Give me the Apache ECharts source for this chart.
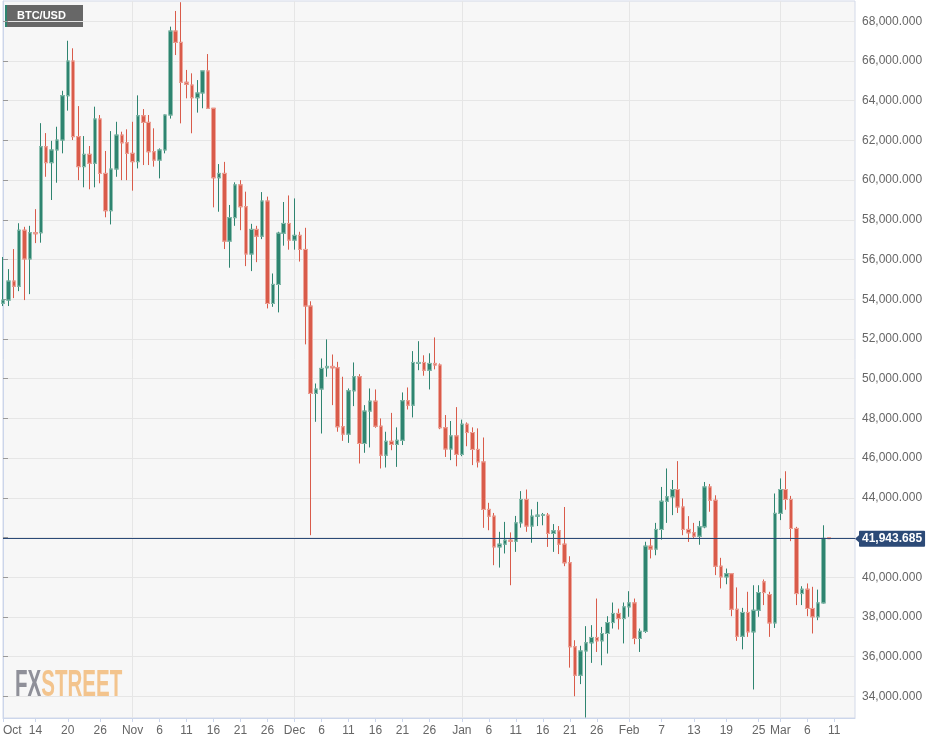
<!DOCTYPE html>
<html><head><meta charset="utf-8">
<script src="https://cdn.jsdelivr.net/npm/echarts@6/dist/echarts.min.js"></script>
<style>html,body{margin:0;padding:0;background:#fff}#c{width:939px;height:744px}</style>
</head><body><div id="c"></div>
<script>
// ---- data ----
const dates = [
'2021-10-08','2021-10-09','2021-10-10','2021-10-11','2021-10-12','2021-10-13','2021-10-14','2021-10-15','2021-10-16','2021-10-17',
'2021-10-18','2021-10-19','2021-10-20','2021-10-21','2021-10-22','2021-10-23','2021-10-24','2021-10-25','2021-10-26','2021-10-27',
'2021-10-28','2021-10-29','2021-10-30','2021-10-31','2021-11-01','2021-11-02','2021-11-03','2021-11-04','2021-11-05','2021-11-06',
'2021-11-07','2021-11-08','2021-11-09','2021-11-10','2021-11-11','2021-11-12','2021-11-13','2021-11-14','2021-11-15','2021-11-16',
'2021-11-17','2021-11-18','2021-11-19','2021-11-20','2021-11-21','2021-11-22','2021-11-23','2021-11-24','2021-11-25','2021-11-26',
'2021-11-27','2021-11-28','2021-11-29','2021-11-30','2021-12-01','2021-12-02','2021-12-03','2021-12-04','2021-12-05','2021-12-06',
'2021-12-07','2021-12-08','2021-12-09','2021-12-10','2021-12-11','2021-12-12','2021-12-13','2021-12-14','2021-12-15','2021-12-16',
'2021-12-17','2021-12-18','2021-12-19','2021-12-20','2021-12-21','2021-12-22','2021-12-23','2021-12-24','2021-12-25','2021-12-26',
'2021-12-27','2021-12-28','2021-12-29','2021-12-30','2021-12-31','2022-01-01','2022-01-02','2022-01-03','2022-01-04','2022-01-05',
'2022-01-06','2022-01-07','2022-01-08','2022-01-09','2022-01-10','2022-01-11','2022-01-12','2022-01-13','2022-01-14','2022-01-15',
'2022-01-16','2022-01-17','2022-01-18','2022-01-19','2022-01-20','2022-01-21','2022-01-22','2022-01-23','2022-01-24','2022-01-25',
'2022-01-26','2022-01-27','2022-01-28','2022-01-29','2022-01-30','2022-01-31','2022-02-01','2022-02-02','2022-02-03','2022-02-04',
'2022-02-05','2022-02-06','2022-02-07','2022-02-08','2022-02-09','2022-02-10','2022-02-11','2022-02-12','2022-02-13','2022-02-14',
'2022-02-15','2022-02-16','2022-02-17','2022-02-18','2022-02-19','2022-02-20','2022-02-21','2022-02-22','2022-02-23','2022-02-24',
'2022-02-25','2022-02-26','2022-02-27','2022-02-28','2022-03-01','2022-03-02','2022-03-03','2022-03-04','2022-03-05','2022-03-06',
'2022-03-07','2022-03-08','2022-03-09','2022-03-10'];
const opens = [
53800,53960,54920,54660,57480,56030,57350,57350,61680,60880,
61520,62020,64250,66000,62190,60680,61300,60850,63080,60340,
58460,60560,62270,61880,61350,60930,63240,62910,61430,61010,
61520,63280,67510,66940,64930,64790,64150,64390,65500,63620,
60120,60340,56930,58110,59760,58660,56280,57520,57180,58950,
53790,54750,57330,57820,56980,57220,56510,53660,49260,49480,
50550,50620,50550,47580,47210,49390,50100,46740,48370,48870,
47610,46150,46850,46690,46900,48890,48670,50780,50820,50430,
50770,50690,47530,46460,47120,46190,47710,47290,46440,45810,
43420,43080,41530,41670,41870,41820,42740,43920,42580,43080,
43130,43130,42210,42340,41670,40730,36500,35070,36290,36700,
36970,36800,37170,37720,38180,37920,38510,38710,36920,37280,
41570,41420,42410,43830,44050,44420,43540,42410,42240,42070,
42540,44550,43880,40560,40020,40180,38390,37030,38230,37250,
38340,39770,39130,37700,43220,44420,43920,42460,39180,39400,
38430,38010,38710,41990];
const highs = [
56130,55520,56530,57830,57650,57700,58540,62870,62370,61980,
62690,64500,67020,66640,63730,62220,61720,63700,63280,61470,
62470,62940,62440,62560,62940,64270,63580,63280,62610,61600,
63300,67730,68520,68960,65550,65380,65040,65500,66350,63620,
60810,60920,58750,59890,60000,59420,57800,57700,59400,59170,
55300,57400,58900,59230,59080,57400,57600,53900,49760,51020,
51980,51220,50850,50100,49510,50820,50230,48670,49510,49460,
48000,47330,48280,47550,49310,49560,51390,51890,51180,51280,
52080,50770,48170,47870,48570,47940,47800,47550,47500,47040,
43750,43240,42290,42790,42260,43090,44340,44420,43420,43800,
43240,43240,42680,42580,43540,41060,36830,36550,37540,37590,
38930,37500,38040,38730,38420,38730,39300,38930,37420,41790,
41930,42740,44550,45480,44900,45850,43970,43080,42740,42840,
44800,44700,44130,40980,40440,40200,39490,38460,39270,39600,
39600,39890,39270,44220,44980,45340,44100,42540,39550,39690,
39520,39380,42620,42000];
const lows = [
53660,53660,54060,54410,53960,54260,56830,56850,60170,59000,
59870,61350,63500,62020,60000,59640,59540,59640,59840,58130,
57770,60170,60000,60000,59470,60590,60760,60760,60680,60090,
61350,63100,66300,62860,64120,62360,63400,63620,63620,58630,
58410,56530,55590,57700,57480,55670,55420,55870,57030,53540,
53620,53340,56700,56500,56500,55900,51730,42120,47830,47240,
50100,48670,47330,46870,46770,48620,45730,46270,46540,47530,
45480,45530,46400,45560,46660,48450,48050,50430,50150,49460,
50470,47460,46060,45900,45590,46100,46600,45650,45530,42490,
42370,40610,40490,41200,39600,41280,42500,42290,41740,42580,
42620,41530,41280,41170,40560,35450,34010,34620,32940,35690,
36240,35570,36160,37420,37370,36670,38010,36630,36240,37200,
40950,41110,41900,42740,43130,43240,42120,41780,41960,41640,
42470,43300,40110,39440,39650,38040,36800,36370,37000,34350,
38010,38600,37000,37450,42880,43400,41820,38600,38600,38040,
37170,37840,38680,41930];
const closes = [
53960,54920,54660,57480,56030,57350,57300,61680,60880,61520,
62020,64250,66000,62190,60680,61300,60850,63080,60340,58460,
60560,62270,61880,61350,60930,63240,62910,61430,61010,61520,
63280,67510,66940,64930,64830,64150,64390,65500,63620,60120,
60340,56930,58110,59760,58660,56280,57520,57180,58950,53790,
54750,57330,57820,56980,57220,56510,53660,49260,49480,50520,
50620,50550,47580,47210,49390,50100,46740,48370,48870,47610,
46150,46850,46690,46900,48890,48670,50820,50820,50430,50770,
50690,47530,46460,47120,46190,47710,47290,46440,45810,43420,
43080,41530,41670,41870,41820,42740,43920,42580,43080,43130,
43150,42210,42340,41670,40730,36500,35070,36290,36700,36970,
36800,37170,37720,38180,37920,38510,38710,36920,37280,41570,
41420,42410,43830,44050,44420,43540,42410,42240,42070,42540,
44550,43880,40560,40020,40180,38390,37030,38230,37250,38340,
39230,39230,37700,43220,44420,43920,42460,39180,39400,38430,
38010,38710,41960,41943.685];
const xTickDates = ['2021-10-08','2021-10-14','2021-10-20','2021-10-26','2021-11-01','2021-11-06','2021-11-11','2021-11-16','2021-11-21','2021-11-26',
'2021-12-01','2021-12-06','2021-12-11','2021-12-16','2021-12-21','2021-12-26','2022-01-01','2022-01-06','2022-01-11','2022-01-16','2022-01-21','2022-01-26',
'2022-02-01','2022-02-07','2022-02-13','2022-02-19','2022-02-25','2022-03-01','2022-03-06','2022-03-11'];
const xTickLabels = ['Oct','14','20','26','Nov','6','11','16','21','26','Dec','6','11','16','21','26','Jan','6','11','16','21','26','Feb','7','13','19','25','Mar','6','11'];
const monthStarts = ['2021-11-01','2021-12-01','2022-01-01','2022-02-01','2022-03-01'];
const yTicks = [34000,36000,38000,40000,42000,44000,46000,48000,50000,52000,54000,56000,58000,60000,62000,64000,66000,68000];
const axisStart = '2021-10-08';
const axisSpanDays = 157.84;
const yMin = 32914, yMax = 69022;
const symbol = 'BTC/USD';

// ---- build ----
const DAY = 86400000;
const dayOf = d => (Date.parse(d) - Date.parse(axisStart)) / DAY;
const fmt = v => Number(v).toLocaleString('en-US', {minimumFractionDigits: 3, maximumFractionDigits: 3});
const candles = dates.map((d, i) => [dayOf(d), opens[i], closes[i], lows[i], highs[i]]);
const bodies = dates.map((d, i) => [dayOf(d), opens[i], closes[i], Math.min(opens[i], closes[i]), Math.max(opens[i], closes[i])]);
const tickDays = xTickDates.map(dayOf);
const monthDays = monthStarts.map(dayOf);
const last = closes[closes.length - 1];
const GREEN = '#2e8470', RED = '#d95b4a', NAVY = '#2c4a77';
const FONT = '"Liberation Sans", Arial, sans-serif';

const chart = echarts.init(document.getElementById('c'), null, {renderer: 'canvas'});
chart.setOption({
  animation: false,
  backgroundColor: '#ffffff',
  grid: {left: 0, top: 1, right: 84, bottom: 26, show: true, backgroundColor: '#f7f7f7', borderColor: '#d3d9e8', borderWidth: 1},
  xAxis: [{
    type: 'value', min: 0, max: axisSpanDays, position: 'bottom',
    axisLine: {show: true, lineStyle: {color: '#ccd6eb'}},
    axisTick: {show: true, customValues: tickDays, length: 4, lineStyle: {color: '#ccd6eb'}},
    axisLabel: {show: true, customValues: tickDays, color: '#666', fontSize: 12, fontFamily: FONT, margin: 7, alignMinLabel: 'left',
      formatter: v => { let k = 0, best = 1e9; tickDays.forEach((t, i) => { if (Math.abs(t - v) < best) { best = Math.abs(t - v); k = i; } }); return xTickLabels[k]; }},
    splitLine: {show: false}
  }, {
    type: 'value', min: 0, max: axisSpanDays, position: 'bottom',
    axisLine: {show: false}, axisLabel: {show: false},
    axisTick: {show: false, customValues: monthDays},
    splitLine: {show: true, lineStyle: {color: '#e6e6e6', width: 1}}
  }],
  yAxis: {
    type: 'value', position: 'right', min: yMin, max: yMax, scale: true,
    axisLine: {show: true, lineStyle: {color: '#ccd6eb'}},
    axisTick: {show: true, customValues: yTicks, length: 5, lineStyle: {color: '#999'}},
    axisLabel: {show: true, customValues: yTicks, formatter: fmt, color: '#666', fontSize: 12, fontFamily: FONT, margin: 7},
    splitLine: {show: true, lineStyle: {color: '#e6e6e6', width: 1}}
  },
  series: [{
    type: 'candlestick', name: symbol, xAxisIndex: 0, data: candles, barWidth: 4,
    itemStyle: {color: GREEN, color0: RED, borderColor: GREEN, borderColor0: RED, borderWidth: 1},
    markLine: {
      silent: true, symbol: ['none', 'none'], animation: false,
      lineStyle: {color: NAVY, width: 1, type: 'solid'},
      label: {show: true, position: 'end', distance: 4, formatter: () => fmt(last), color: '#fff', fontWeight: 'bold', fontSize: 12,
        fontFamily: FONT, backgroundColor: NAVY, padding: [2, 3, 2, 3], borderRadius: 1},
      data: [{yAxis: last}]
    },
    markPoint: {
      silent: true, animation: false, label: {show: false},
      data: [{coord: [axisSpanDays, last], symbol: 'triangle', symbolSize: [9, 5], symbolRotate: 90, symbolOffset: [2.5, 0], itemStyle: {color: NAVY}}]
    }
  }, {
    type: 'candlestick', name: symbol + ' body', xAxisIndex: 0, data: bodies, barWidth: 4, z: 3,
    itemStyle: {color: GREEN, color0: RED, borderColor: '#8fc0b1', borderColor0: '#eea89e', borderWidth: 1}
  }],
  graphic: [{
    type: 'group', left: 5, top: 5, silent: true,
    children: [
      {type: 'rect', shape: {x: 0, y: 0, width: 78, height: 22}, style: {fill: '#676767'}},
      {type: 'rect', shape: {x: 0, y: 0, width: 2, height: 22}, style: {fill: GREEN}},
      {type: 'text', x: 12, y: 11, style: {text: symbol, fill: '#fff', font: 'bold 11px ' + FONT, verticalAlign: 'middle'}}
    ]
  }, {
    type: 'text', x: 15, y: 686, scaleX: 0.57, silent: true, z: 1,
    style: {text: '{a|FX}{b|STREET}', verticalAlign: 'middle', font: 'bold 36px ' + FONT,
      rich: {a: {fill: '#8f9099', font: 'bold 36px ' + FONT}, b: {fill: '#f3c48d', font: 'bold 36px ' + FONT}}}
  }]
});
</script>
</body></html>
